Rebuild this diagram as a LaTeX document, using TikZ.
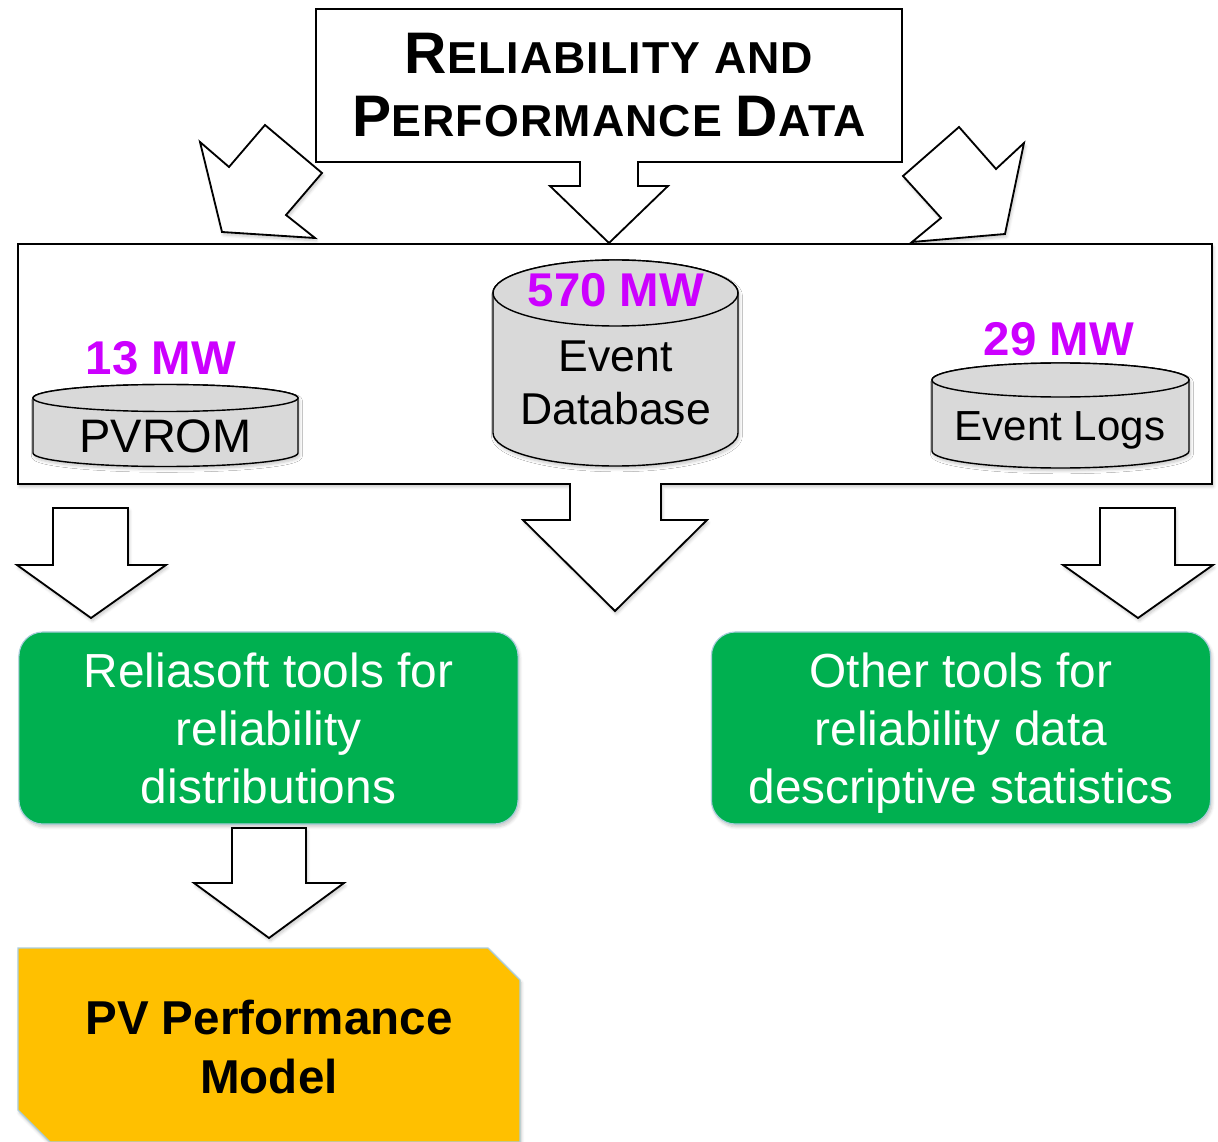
\documentclass[tikz,border=0pt]{standalone}
\usepackage{fontspec}
\setmainfont{Liberation Sans}
\usetikzlibrary{shadows,shadows.blur}

\definecolor{mwpurple}{RGB}{204,0,255}
\definecolor{toolgreen}{RGB}{0,176,80}
\definecolor{modelyellow}{RGB}{255,192,0}
\definecolor{dbgray}{RGB}{217,217,217}
\definecolor{edgeblue}{RGB}{170,205,220}

\newcommand{\capletter}[1]{{\fontsize{41.7}{44.8}\selectfont #1}}

\tikzset{
  outline/.style={draw=black, line width=1.3pt, fill=white, line join=miter},
  softshadow/.style={blur shadow={shadow blur steps=6, shadow xshift=1pt, shadow yshift=-2pt, shadow opacity=22}},
  blockarrow/.style={outline, softshadow},
  cyl/.style={draw=black, line width=1pt, fill=dbgray},
  mw/.style={text=mwpurple, font=\bfseries\fontsize{33.7}{40}\selectfont, anchor=base, inner sep=0pt},
  dblabel/.style={font=\fontsize{31.7}{37.7}\selectfont, align=center, inner sep=0pt},
  titletext/.style={font=\bfseries\addfontfeature{LetterSpace=2.5}\fontsize{31.8}{44.8}\selectfont, align=center, inner sep=0pt},
  toolbox/.style={fill=toolgreen, draw=edgeblue, line width=0.8pt, rounded corners=0.6cm,
    minimum width=12.475cm, minimum height=4.8cm, text=white, align=center,
    font=\fontsize{34}{41.3}\selectfont, inner sep=0pt, softshadow}
}

\begin{document}
\begin{tikzpicture}[x=0.025cm, y=-0.025cm]
\useasboundingbox (0,0) rectangle (1218,1142);

\draw[blockarrow] (265,125) -- (322,173) -- (286,215) -- (315,238) -- (222,232) -- (200,142) -- (229,167) -- cycle;
\draw[blockarrow] (959,127) -- (903,176) -- (941,218) -- (912,242) -- (1005,234) -- (1024,143) -- (996,169) -- cycle;

\draw[outline] (316,9) -- (902,9) -- (902,162) -- (638,162) -- (638,186) -- (668,186) -- (609,243)
  -- (550,186) -- (580,186) -- (580,162) -- (316,162) -- cycle;
\node[titletext] (title) at (609,85.5) {\capletter{R}ELIABILITY AND\\\capletter{P}ERFORMANCE \capletter{D}ATA};

\draw[outline, softshadow] (18,244) -- (1212,244) -- (1212,484) -- (661,484) -- (661,520) -- (707,520) -- (615,611)
  -- (523,520) -- (570,520) -- (570,484) -- (18,484) -- cycle;

\filldraw[cyl, softshadow] (33,398) -- (33,453) arc[start angle=180, end angle=0, x radius=132.5, y radius=13.5]
  -- (298,398) arc[start angle=360, end angle=180, x radius=132.5, y radius=13.5] -- cycle;
\draw[cyl] (165.5,398) ellipse[x radius=132.5, y radius=13.5];
\node[dblabel, font=\fontsize{33.4}{40}\selectfont, anchor=base] (pvrom) at (165.5,452) {PVROM};
\node[mw] (pvrommw) at (161,375) {13 MW};

\filldraw[cyl, softshadow] (493,293) -- (493,433) arc[start angle=180, end angle=0, x radius=122.5, y radius=33]
  -- (738,293) arc[start angle=360, end angle=180, x radius=122.5, y radius=33] -- cycle;
\draw[cyl] (615.5,293) ellipse[x radius=122.5, y radius=33];
\node[dblabel] (eventdb) at (615.5,382.5) {Event\\Database};
\node[mw] (eventdbmw) at (616,307) {570 MW};

\filldraw[cyl, softshadow] (932,380) -- (932,451) arc[start angle=180, end angle=0, x radius=128.5, y radius=17]
  -- (1189,380) arc[start angle=360, end angle=180, x radius=128.5, y radius=17] -- cycle;
\draw[cyl] (1060.5,380) ellipse[x radius=128.5, y radius=17];
\node[dblabel, font=\fontsize{29.9}{36}\selectfont, anchor=base] (eventlogs) at (1060,441) {Event Logs};
\node[mw] (eventlogsmw) at (1059,356) {29 MW};

\draw[blockarrow] (53,508) -- (128,508) -- (128,565) -- (166,565) -- (91,618) -- (17,565) -- (53,565) -- cycle;
\draw[blockarrow] (1100,508) -- (1175,508) -- (1175,565) -- (1213,565) -- (1138,618) -- (1063,565) -- (1100,565) -- cycle;

\node[toolbox] (reliasoft) at (268.5,728) {Reliasoft tools for\\reliability\\distributions};
\node[toolbox] (othertools) at (961,728) {Other tools for\\reliability data\\\smash{descriptive statistics}};

\draw[blockarrow] (232,828) -- (306,828) -- (306,883) -- (344,883) -- (269,938) -- (194,883) -- (232,883) -- cycle;

\draw[fill=modelyellow, draw=edgeblue, line width=0.8pt, softshadow] (18,948) -- (488,948) -- (520,980) -- (520,1142)
  -- (50,1142) -- (18,1110) -- cycle;
\node[align=center, inner sep=0pt, font=\bfseries\fontsize{33.8}{41.3}\selectfont] (model) at (269,1047) {PV Performance\\Model};
\end{tikzpicture}
\end{document}
